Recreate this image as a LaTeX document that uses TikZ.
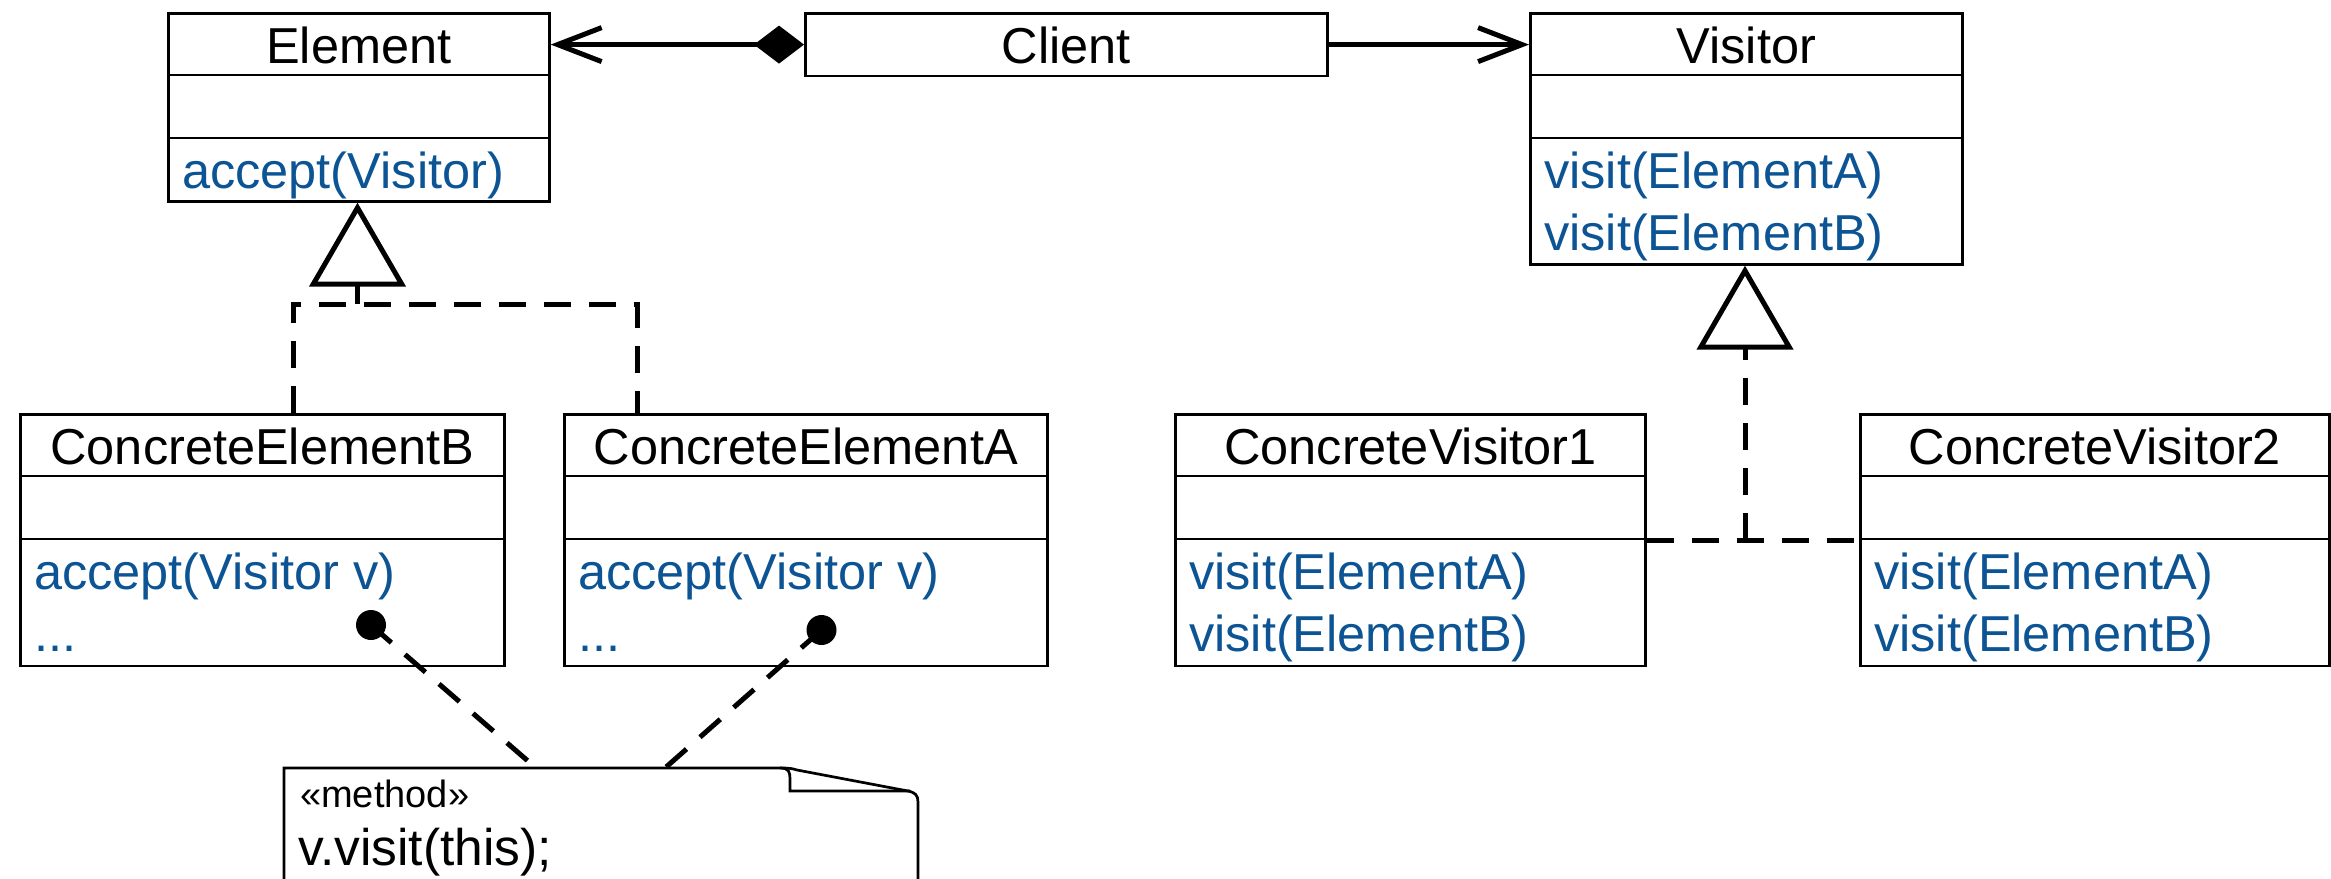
\documentclass[tikz,border=0pt]{standalone}
\usepackage{fontspec}
\setmainfont{Liberation Sans}
\usetikzlibrary{arrows.meta,calc}
\definecolor{opblue}{RGB}{12,84,148}
\tikzstyle{classbox}=[draw,line width=2.7pt,inner sep=0pt,anchor=north west]
\tikzstyle{divider}=[line width=2.7pt]
\tikzstyle{ttl}=[anchor=base,inner sep=0pt]
\tikzstyle{op}=[anchor=base west,inner sep=0pt,text=opblue]
\tikzstyle{assoc}=[line width=5pt,arrows={Diamond[length=50pt,width=38pt]-Straight Barb[length=44pt,width=34pt]}]
\tikzstyle{nav}=[line width=5pt,arrows={-Straight Barb[length=44pt,width=34pt]}]
\tikzstyle{inherit}=[line width=5pt,dash pattern=on 27pt off 18pt,arrows={-Triangle[open,length=84pt,width=96pt]}]
\tikzstyle{realize}=[line width=5pt,dash pattern=on 27pt off 18pt]
\tikzstyle{ball}=[circle,fill,inner sep=0pt,minimum size=30pt]
\tikzstyle{noteline}=[line width=2.7pt]

\begin{document}
\begin{tikzpicture}[x=1pt,y=-1pt,font=\fontsize{50.5}{62}\selectfont]
	\useasboundingbox (0,0) rectangle (2331,878);
	\clip (0,0) rectangle (2331,878);
	% classes
	\node[classbox,minimum width=381pt,minimum height=188pt] (element) at (167,12) {};
	\node[classbox,minimum width=522pt,minimum height=62.5pt] (client) at (804,12) {};
	\node[classbox,minimum width=432pt,minimum height=251pt] (visitor) at (1529,12) {};
	\foreach \n/\x/\w in {ceb/19/484,cea/563/483,cv1/1174/470,cv2/1859/469}
		\node[classbox,minimum width=\w pt,minimum height=251.5pt] (\n) at (\x,413) {};
	\foreach \n in {element,visitor,ceb,cea,cv1,cv2}{ \foreach \d in {63,126} \draw[divider] ($(\n.north west)+(0,\d)$) -- ($(\n.north east)+(0,\d)$);}

	\foreach \n/\t in {element/Element,client/Client,visitor/Visitor,ceb/ConcreteElementB,cea/ConcreteElementA,cv1/ConcreteVisitor1,cv2/ConcreteVisitor2}
		\node[ttl] (\n-title) at ($(\n.north)+(0,51)$) {\t};
	\foreach \n/\k/\t in {element/0/accept(Visitor),visitor/0/visit(ElementA),visitor/1/visit(ElementB),ceb/0/accept(Visitor v),cea/0/accept(Visitor v),cv1/0/visit(ElementA),cv1/1/visit(ElementB),cv2/0/visit(ElementA),cv2/1/visit(ElementB)}
		\node[op] (\n-op\k) at ($(\n.north west)+(15,176+62*\k)$) {\t};
	\node[op] (ceb-etc) at ($(ceb.north west)+(15,238)$) {...};
	\node[op] (cea-etc) at ($(cea.north west)+(15,238)$) {...};

	\draw[assoc] (client.west) -- (client.west -| element.east);
	\draw[nav] (client.east) -- (client.east -| visitor.west);

	\coordinate (efork) at (357.5,304);
	\coordinate (eforkb) at (293,304);
	\coordinate (eforka) at (637,304);
	\draw[inherit] (efork) -- (efork |- element.south);
	\draw[realize] (eforkb |- ceb.north) -- (eforkb) -- (eforka) -- (eforka |- cea.north);

	\coordinate (vfork) at (1745,540);
	\draw[inherit] (vfork) -- (vfork |- visitor.south);
	\draw[realize] (cv1.east |- vfork) -- (cv2.west |- vfork);

	% note
	\draw[noteline] (284,900) -- (284,768) -- (780,768) .. controls (790,768) and (792,768.5) .. (797,770) -- (908,791) .. controls (915,792.5) and (918,795) .. (918,802) -- (918,900);
	\draw[noteline] (780,768) .. controls (789,768) and (790,772) .. (790,779) -- (790,791) -- (910,791);
	\node[anchor=base west,inner sep=0pt,font=\fontsize{38}{42}\selectfont] (notehead) at (300,807) {«method»};
	\node[anchor=base west,inner sep=0pt,font=\fontsize{51.5}{62}\selectfont] (notebody) at (298,865) {v.visit(this);};

	\node[ball] (ballb) at (371,625) {};
	\node[ball] (balla) at (821.5,630) {};
	\coordinate (noteb) at (536,768);
	\coordinate (notea) at (665,768);
	\draw[realize] (ballb.center) -- (noteb);
	\draw[realize] (balla.center) -- (notea);
\end{tikzpicture}
\end{document}
